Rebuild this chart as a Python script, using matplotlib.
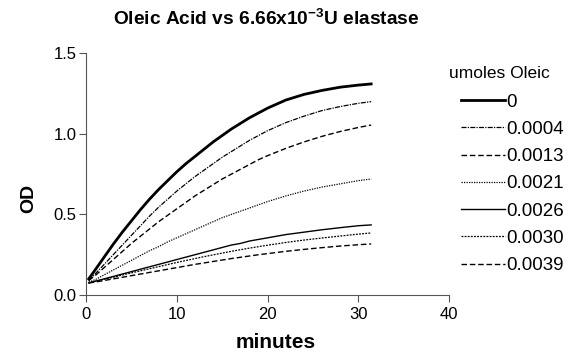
import matplotlib
matplotlib.use('Agg')
import matplotlib.pyplot as plt

plt.rcParams['font.family'] = ['Liberation Sans', 'DejaVu Sans']
plt.rcParams['mathtext.fontset'] = 'custom'
plt.rcParams['mathtext.rm'] = 'Liberation Sans'
plt.rcParams['mathtext.bf'] = 'Liberation Sans:bold'

# time points (minutes)
minutes = [0.3, 1, 2, 3, 4, 5, 6, 7, 8, 9, 10, 11, 12, 13, 14, 15, 16, 17, 18, 19, 20,
           22, 24, 26, 28, 30, 31.4]

od_0000 = [0.10, 0.155, 0.235, 0.315, 0.39, 0.46, 0.53, 0.595, 0.655, 0.71, 0.765, 0.815, 0.86, 0.905,
           0.95, 0.99, 1.03, 1.065, 1.10, 1.13, 1.16, 1.21, 1.245, 1.27, 1.29, 1.303, 1.31]
od_0004 = [0.09, 0.13, 0.19, 0.25, 0.31, 0.37, 0.43, 0.49, 0.545, 0.595, 0.645, 0.69, 0.735, 0.775,
           0.815, 0.855, 0.89, 0.925, 0.96, 0.99, 1.02, 1.07, 1.11, 1.145, 1.17, 1.19, 1.20]
od_0013 = [0.09, 0.12, 0.17, 0.22, 0.27, 0.32, 0.365, 0.41, 0.455, 0.495, 0.535, 0.575, 0.615, 0.65,
           0.685, 0.72, 0.75, 0.78, 0.81, 0.84, 0.865, 0.91, 0.95, 0.985, 1.015, 1.04, 1.055]
od_0021 = [0.08, 0.095, 0.125, 0.155, 0.185, 0.215, 0.245, 0.275, 0.30, 0.33, 0.355, 0.38, 0.405, 0.43,
           0.455, 0.48, 0.50, 0.52, 0.54, 0.56, 0.58, 0.615, 0.645, 0.67, 0.69, 0.71, 0.72]
od_0026 = [0.075, 0.085, 0.10, 0.115, 0.13, 0.145, 0.16, 0.175, 0.19, 0.205, 0.22, 0.235, 0.25, 0.265,
           0.28, 0.295, 0.31, 0.32, 0.335, 0.345, 0.355, 0.375, 0.39, 0.405, 0.418, 0.43, 0.435]
od_0030 = [0.075, 0.085, 0.098, 0.11, 0.124, 0.137, 0.15, 0.163, 0.176, 0.189, 0.202, 0.214, 0.226, 0.238,
           0.249, 0.26, 0.271, 0.281, 0.291, 0.30, 0.309, 0.326, 0.341, 0.354, 0.366, 0.378, 0.385]
od_0039 = [0.075, 0.08, 0.09, 0.10, 0.11, 0.12, 0.13, 0.14, 0.15, 0.16, 0.17, 0.18, 0.19, 0.199,
           0.208, 0.217, 0.226, 0.234, 0.242, 0.25, 0.257, 0.271, 0.283, 0.294, 0.304, 0.312, 0.317]

labels = ['0', '0.0004', '0.0013', '0.0021', '0.0026', '0.0030', '0.0039']
series = [od_0000, od_0004, od_0013, od_0021, od_0026, od_0030, od_0039]
styles = [('-', 2.0), ((0, (4, 1, 1, 1)), 0.9), ((0, (4, 2)), 1.0), ((0, (1, 1)), 0.9),
          ('-', 1.0), ((0, (1.5, 1)), 0.9), ((0, (4, 2)), 1.0)]

fig = plt.figure(figsize=(5.85, 3.58), dpi=100)
ax = fig.add_axes([0.147, 0.176, 0.621, 0.675])

for vals, lab, (ls, lw) in zip(series, labels, styles):
    ax.plot(minutes, vals, color='black', linestyle=ls, linewidth=lw, label=lab)

ax.set_xlim(0, 40)
ax.set_ylim(0, 1.5)
ax.set_xticks([0, 10, 20, 30, 40])
ax.set_yticks([0, 0.5, 1.0, 1.5])
ax.set_yticklabels(['0.0', '0.5', '1.0', '1.5'])
for s in ['top', 'right']:
    ax.spines[s].set_visible(False)
for s in ['left', 'bottom']:
    ax.spines[s].set_color('#555555')
ax.tick_params(direction='out', length=5, color='#555555', labelsize=12, pad=2)
ax.tick_params(axis='x', pad=4)

fig.text(0.472, 0.042, 'minutes', ha='center', va='center', fontsize=15, fontweight='bold')
fig.text(0.05, 0.447, 'OD', ha='center', va='center', rotation=90, fontsize=14, fontweight='bold')
fig.text(0.455, 0.948, r'Oleic Acid vs 6.66x10$^{\mathbf{-3}}$U elastase',
         ha='center', va='center', fontsize=13.8, fontweight='bold')

# legend title drawn separately so it can sit left of the handles
fig.text(0.768, 0.795, 'umoles Oleic', ha='left', va='center', fontsize=12.5)
leg = ax.legend(loc='upper left', bbox_to_anchor=(0.76, 0.786),
                bbox_transform=fig.transFigure, frameon=False, fontsize=13.5,
                handlelength=2.3, handletextpad=0.1, labelspacing=0.54)

fig.savefig('out.png', dpi=100)
